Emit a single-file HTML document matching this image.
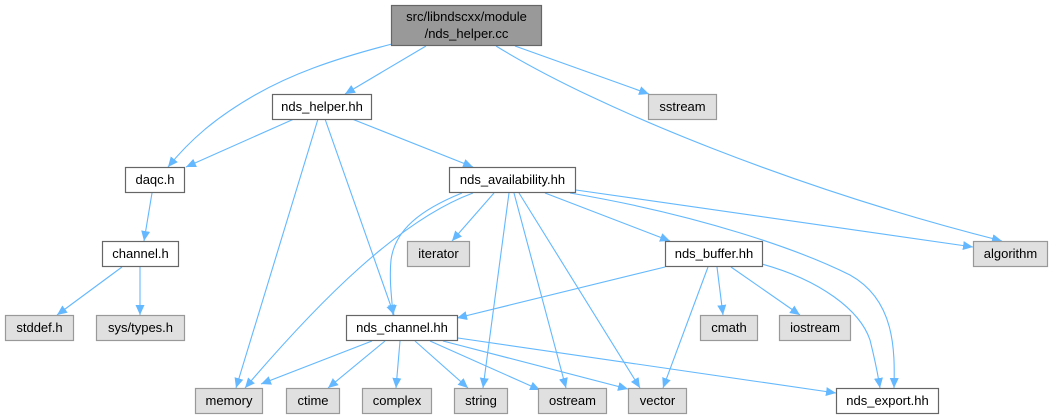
<!DOCTYPE html>
<html><head><meta charset="utf-8"><style>
html,body{margin:0;padding:0;background:#fff;width:1061px;height:420px;overflow:hidden}
svg{display:block}
text{font-family:"Liberation Sans",Arial,sans-serif;font-size:13px;fill:#000}
.w{fill:#fff;stroke:#666;stroke-width:1.2}
.g{fill:#e0e0e0;stroke:#999;stroke-width:1.2}
.r{fill:#999;stroke:#666;stroke-width:1.2}
path.e{fill:none;stroke:#63b8ff;stroke-width:1.1}
</style></head><body>
<svg width="1061" height="420" viewBox="0 0 1061 420" xmlns="http://www.w3.org/2000/svg">
<defs><marker id="a" viewBox="0 0 10 10" refX="10" refY="5" markerWidth="10" markerHeight="10" markerUnits="userSpaceOnUse" orient="auto"><path d="M0,0.5 L10,5 L0,9.5 z" fill="#63b8ff"/></marker></defs>
<g marker-end="url(#a)">
<path class="e" d="M392,44 C330,60 290,75 255,95 C215,118 190,140 168,167"/>
<path class="e" d="M426,46 L345,94"/>
<path class="e" d="M515,46 L649,94"/>
<path class="e" d="M496,46 C600,110 800,190 1002,241"/>
<path class="e" d="M294,119 L186,167"/>
<path class="e" d="M318,119 L236,388"/>
<path class="e" d="M325,119 L394,315"/>
<path class="e" d="M352,119 L473,167"/>
<path class="e" d="M152,193 L144,241"/>
<path class="e" d="M122,267 L57,315"/>
<path class="e" d="M140,267 L140,315"/>
<path class="e" d="M473,193 C400,220 320,300 245,388"/>
<path class="e" d="M462,193 C420,210 395,230 391,260 C389,280 392,300 393,315"/>
<path class="e" d="M494,193 L452,241"/>
<path class="e" d="M509,193 L483,388"/>
<path class="e" d="M514,193 L566,388"/>
<path class="e" d="M519,193 L640,388"/>
<path class="e" d="M545,193 L670,241"/>
<path class="e" d="M576,190 L973,247"/>
<path class="e" d="M570,193 C700,215 800,250 850,275 C895,300 895,350 894,388"/>
<path class="e" d="M665,267 L457,318"/>
<path class="e" d="M717,267 L723,315"/>
<path class="e" d="M731,267 L800,315"/>
<path class="e" d="M708,267 L663,388"/>
<path class="e" d="M762,264 C820,280 860,310 870,340 C875,360 878,375 880,388"/>
<path class="e" d="M372,341 L261,384"/>
<path class="e" d="M385,341 L328,388"/>
<path class="e" d="M400,341 L396,388"/>
<path class="e" d="M415,341 L468,388"/>
<path class="e" d="M430,341 L540,390"/>
<path class="e" d="M443,341 L628,389"/>
<path class="e" d="M458,338 L836,393"/>
</g>
<rect class="r" x="391.5" y="5.5" width="150" height="40"/>
<text x="466.5" y="21" text-anchor="middle">src/libndscxx/module</text>
<text x="466.5" y="38" text-anchor="middle">/nds_helper.cc</text>
<rect class="w" x="272.5" y="94.5" width="99" height="25"/><text x="322" y="111" text-anchor="middle">nds_helper.hh</text>
<rect class="g" x="648.5" y="94.5" width="68" height="25"/><text x="682.5" y="111" text-anchor="middle">sstream</text>
<rect class="w" x="125.5" y="167.5" width="59" height="25"/><text x="155" y="184" text-anchor="middle">daqc.h</text>
<rect class="w" x="449.5" y="167.5" width="126" height="25"/><text x="512.5" y="184" text-anchor="middle">nds_availability.hh</text>
<rect class="w" x="102.5" y="241.5" width="76" height="25"/><text x="140.5" y="258" text-anchor="middle">channel.h</text>
<rect class="g" x="407.5" y="241.5" width="62" height="25"/><text x="438.5" y="258" text-anchor="middle">iterator</text>
<rect class="w" x="665.5" y="241.5" width="97" height="25"/><text x="714" y="258" text-anchor="middle">nds_buffer.hh</text>
<rect class="g" x="973.5" y="241.5" width="74" height="25"/><text x="1010.5" y="258" text-anchor="middle">algorithm</text>
<rect class="g" x="5.5" y="315.5" width="68" height="25"/><text x="39.5" y="332" text-anchor="middle">stddef.h</text>
<rect class="g" x="96.5" y="315.5" width="88" height="25"/><text x="140.5" y="332" text-anchor="middle">sys/types.h</text>
<rect class="w" x="346.5" y="315.5" width="111" height="25"/><text x="402" y="332" text-anchor="middle">nds_channel.hh</text>
<rect class="g" x="700.5" y="315.5" width="57" height="25"/><text x="729" y="332" text-anchor="middle">cmath</text>
<rect class="g" x="779.5" y="315.5" width="71" height="25"/><text x="815" y="332" text-anchor="middle">iostream</text>
<rect class="g" x="195.5" y="388.5" width="67" height="25"/><text x="229" y="405" text-anchor="middle">memory</text>
<rect class="g" x="286.5" y="388.5" width="53" height="25"/><text x="313" y="405" text-anchor="middle">ctime</text>
<rect class="g" x="362.5" y="388.5" width="69" height="25"/><text x="397" y="405" text-anchor="middle">complex</text>
<rect class="g" x="454.5" y="388.5" width="53" height="25"/><text x="481" y="405" text-anchor="middle">string</text>
<rect class="g" x="538.5" y="388.5" width="68" height="25"/><text x="572.5" y="405" text-anchor="middle">ostream</text>
<rect class="g" x="628.5" y="388.5" width="58" height="25"/><text x="657.5" y="405" text-anchor="middle">vector</text>
<rect class="w" x="836.5" y="388.5" width="102" height="25"/><text x="887.5" y="405" text-anchor="middle">nds_export.hh</text>
</svg>
</body></html>
